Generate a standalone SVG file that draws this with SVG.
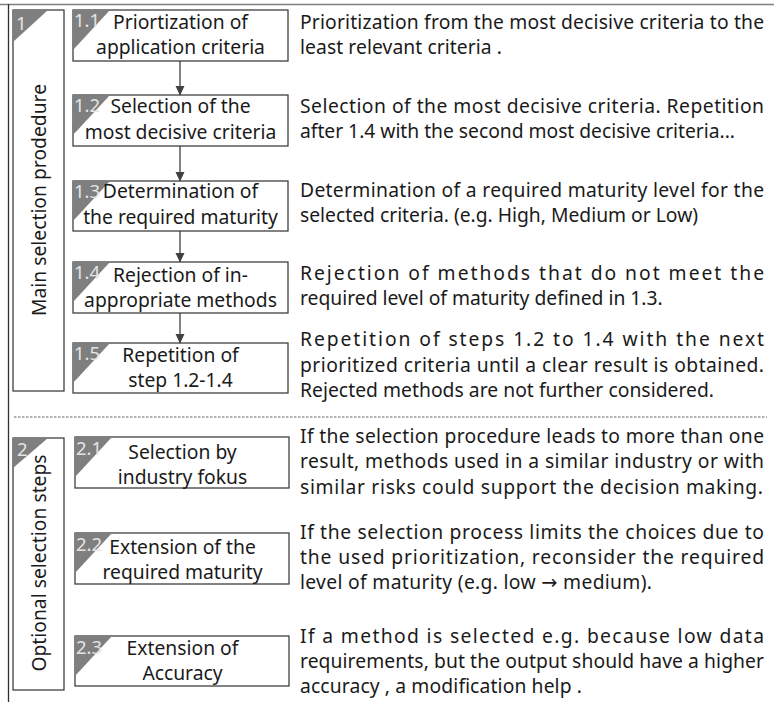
<svg xmlns="http://www.w3.org/2000/svg" width="777" height="702" viewBox="0 0 777 702">
<defs>
<marker id="ah" markerWidth="10" markerHeight="10" refX="9" refY="5" orient="auto" markerUnits="userSpaceOnUse">
<path d="M0,0.5 L9.5,5 L0,9.5 Z" fill="#404040"/>
</marker>
</defs>
<style>
text{font-family:"Noto Sans","Open Sans","DejaVu Sans",sans-serif;}
.box{fill:#fff;stroke:#404040;stroke-width:1.3;}
.tri{fill:#7f7f7f;stroke:none;}
.lbl{font-size:18.5px;fill:#e4e4e4;}
.bt{font-size:19.3px;fill:#1a1a1a;text-anchor:middle;}
.dt{font-size:19.3px;fill:#1a1a1a;}
.gt{font-size:19.3px;fill:#1a1a1a;text-anchor:middle;}
.conn{stroke:#404040;stroke-width:1.3;fill:none;}
</style>
<rect width="777" height="702" fill="#fff"/>
<line x1="0" y1="4.5" x2="774" y2="4.5" stroke="#808080" stroke-width="1.5"/>
<line x1="8.5" y1="4" x2="8.5" y2="702" stroke="#303030" stroke-width="1.3"/>
<line x1="14" y1="417" x2="767" y2="417" stroke="#404040" stroke-width="0.8" stroke-dasharray="2.5,1.5"/>

<g id="group1">
<rect class="box" x="13" y="10" width="51" height="381"/>
<path class="tri" d="M13,10 L48,10 L13,42 Z"/>
<text class="lbl" x="16" y="30">1</text>
<text class="gt" transform="translate(46,200) rotate(-90)">Main selection prodedure</text>
</g>

<g id="group2">
<rect class="box" x="13" y="438" width="51" height="252"/>
<path class="tri" d="M13,438 L48,438 L13,468 Z"/>
<text class="lbl" x="17" y="456">2</text>
<text class="gt" transform="translate(46,563) rotate(-90)">Optional selection steps</text>
</g>

<g id="n11">
<rect class="box" x="73" y="10" width="215" height="51"/>
<path class="tri" d="M73,10 L110,10 L73,50 Z"/>
<text class="lbl" x="74" y="27">1.1</text>
<text class="bt" x="180.5" y="29">Priortization of</text>
<text class="bt" x="180.5" y="54">application criteria</text>
</g>
<g id="n12">
<rect class="box" x="73" y="95" width="215" height="51"/>
<path class="tri" d="M73,95 L110,95 L73,135 Z"/>
<text class="lbl" x="74" y="112">1.2</text>
<text class="bt" x="180.5" y="113">Selection of the</text>
<text class="bt" x="180.5" y="139">most decisive criteria</text>
</g>
<g id="n13">
<rect class="box" x="73" y="181" width="215" height="50"/>
<path class="tri" d="M73,181 L110,181 L73,221 Z"/>
<text class="lbl" x="74" y="198">1.3</text>
<text class="bt" x="180.5" y="198">Determination of</text>
<text class="bt" x="180.5" y="224">the required maturity</text>
</g>
<g id="n14">
<rect class="box" x="73" y="262" width="215" height="51"/>
<path class="tri" d="M73,262 L110,262 L73,302 Z"/>
<text class="lbl" x="74" y="279">1.4</text>
<text class="bt" x="180.5" y="282">Rejection of in-</text>
<text class="bt" x="180.5" y="307">appropriate methods</text>
</g>
<g id="n15">
<rect class="box" x="73" y="343" width="215" height="50"/>
<path class="tri" d="M73,343 L110,343 L73,383 Z"/>
<text class="lbl" x="74" y="360">1.5</text>
<text class="bt" x="180.5" y="362">Repetition of</text>
<text class="bt" x="180.5" y="387">step 1.2-1.4</text>
</g>

<g id="n21">
<rect class="box" x="75" y="437" width="214" height="51"/>
<path class="tri" d="M75,437 L112,437 L75,477 Z"/>
<text class="lbl" x="76" y="455">2.1</text>
<text class="bt" x="182.5" y="459">Selection by</text>
<text class="bt" x="182.5" y="484">industry fokus</text>
</g>
<g id="n22">
<rect class="box" x="75" y="533" width="214" height="51"/>
<path class="tri" d="M75,533 L112,533 L75,573 Z"/>
<text class="lbl" x="76" y="551">2.2</text>
<text class="bt" x="182.5" y="554">Extension of the</text>
<text class="bt" x="182.5" y="579">required maturity</text>
</g>
<g id="n23">
<rect class="box" x="75" y="636" width="214" height="50"/>
<path class="tri" d="M75,636 L112,636 L75,676 Z"/>
<text class="lbl" x="76" y="654">2.3</text>
<text class="bt" x="182.5" y="655">Extension of</text>
<text class="bt" x="182.5" y="680">Accuracy</text>
</g>

<g id="connectors">
<line class="conn" x1="180" y1="61" x2="180" y2="95" marker-end="url(#ah)"/>
<line class="conn" x1="180" y1="146" x2="180" y2="181" marker-end="url(#ah)"/>
<line class="conn" x1="180" y1="231" x2="180" y2="262" marker-end="url(#ah)"/>
<line class="conn" x1="180" y1="313" x2="180" y2="343" marker-end="url(#ah)"/>
</g>

<g id="descriptions">
<text class="dt" x="300" y="29" textLength="464" lengthAdjust="spacing">Prioritization from the most decisive criteria to the</text>
<text class="dt" x="300" y="54" textLength="202" lengthAdjust="spacing">least relevant criteria .</text>
<text class="dt" x="300" y="113" textLength="464" lengthAdjust="spacing">Selection of the most decisive criteria. Repetition</text>
<text class="dt" x="300" y="138" textLength="435" lengthAdjust="spacing">after 1.4 with the second most decisive criteria...</text>
<text class="dt" x="300" y="197" textLength="464" lengthAdjust="spacing">Determination of a required maturity level for the</text>
<text class="dt" x="300" y="222">selected criteria. (e.g. High, Medium or Low)</text>
<text class="dt" x="300" y="280" textLength="464" lengthAdjust="spacing">Rejection of methods that do not meet the</text>
<text class="dt" x="300" y="305">required level of maturity defined in 1.3.</text>
<text class="dt" x="300" y="346" textLength="464" lengthAdjust="spacing">Repetition of steps 1.2 to 1.4 with the next</text>
<text class="dt" x="300" y="372" textLength="464" lengthAdjust="spacing">prioritized criteria until a clear result is obtained.</text>
<text class="dt" x="300" y="397" textLength="414" lengthAdjust="spacing">Rejected methods are not further considered.</text>
<text class="dt" x="300" y="443" textLength="464" lengthAdjust="spacing">If the selection procedure leads to more than one</text>
<text class="dt" x="300" y="468" textLength="464" lengthAdjust="spacing">result, methods used in a similar industry or with</text>
<text class="dt" x="300" y="494" textLength="463" lengthAdjust="spacing">similar risks could support the decision making.</text>
<text class="dt" x="300" y="539" textLength="464" lengthAdjust="spacing">If the selection process limits the choices due to</text>
<text class="dt" x="300" y="564" textLength="464" lengthAdjust="spacing">the used prioritization, reconsider the required</text>
<text class="dt" x="300" y="589" textLength="352" lengthAdjust="spacing">level of maturity (e.g. low → medium).</text>
<text class="dt" x="300" y="643" textLength="464" lengthAdjust="spacing">If a method is selected e.g. because low data</text>
<text class="dt" x="300" y="668" textLength="464" lengthAdjust="spacing">requirements, but the output should have a higher</text>
<text class="dt" x="300" y="693" textLength="282" lengthAdjust="spacing">accuracy , a modification help .</text>
</g>
</svg>
